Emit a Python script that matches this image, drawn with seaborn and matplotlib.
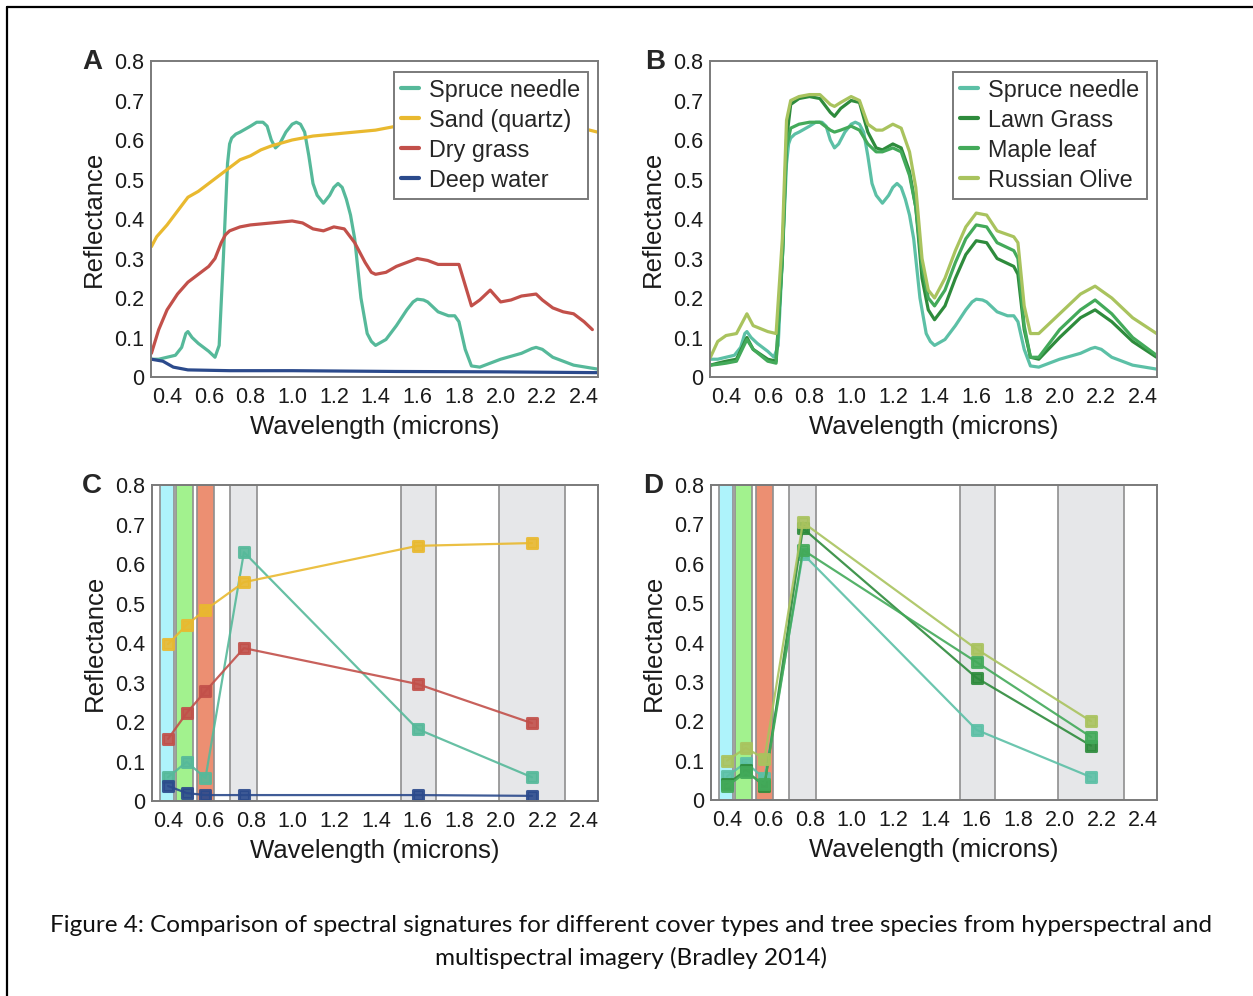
import numpy as np
import pandas as pd
import seaborn as sns
import matplotlib.pyplot as plt
from matplotlib.lines import Line2D
from matplotlib.markers import MarkerStyle

# ---- hyperspectral curves (panels A and B), wavelength in microns ----
spruce_wl = [0.325, 0.36, 0.4, 0.44, 0.47, 0.49, 0.5, 0.52, 0.55, 0.6, 0.63, 0.65, 0.67, 0.69, 0.7, 0.71, 0.73,
             0.75, 0.8, 0.83, 0.86, 0.88, 0.9, 0.92, 0.94, 0.97, 1.0, 1.02, 1.04, 1.06, 1.08, 1.1, 1.12, 1.15,
             1.18, 1.2, 1.22, 1.24, 1.26, 1.28, 1.3, 1.33, 1.36, 1.38, 1.4, 1.45, 1.5, 1.55, 1.58, 1.6, 1.63,
             1.65, 1.7, 1.75, 1.78, 1.8, 1.83, 1.86, 1.9, 2.0, 2.1, 2.15, 2.17, 2.2, 2.25, 2.35, 2.465]
spruce_r = [0.045, 0.045, 0.05, 0.055, 0.075, 0.11, 0.115, 0.1, 0.085, 0.065, 0.05, 0.08, 0.3, 0.54, 0.59, 0.605,
            0.615, 0.62, 0.635, 0.645, 0.645, 0.635, 0.6, 0.58, 0.59, 0.62, 0.64, 0.645, 0.64, 0.62, 0.56, 0.49,
            0.46, 0.44, 0.46, 0.48, 0.49, 0.48, 0.45, 0.41, 0.35, 0.2, 0.11, 0.09, 0.08, 0.095, 0.13, 0.17, 0.19,
            0.197, 0.195, 0.19, 0.165, 0.155, 0.155, 0.14, 0.07, 0.028, 0.025, 0.045, 0.06, 0.072, 0.075, 0.07,
            0.05, 0.03, 0.02]

sand_wl = [0.325, 0.35, 0.4, 0.45, 0.5, 0.55, 0.6, 0.65, 0.7, 0.75, 0.8, 0.85, 0.9, 1.0, 1.1, 1.2, 1.3, 1.4,
           1.5, 1.6, 1.8, 2.0, 2.2, 2.35, 2.465]
sand_r = [0.33, 0.355, 0.385, 0.42, 0.455, 0.47, 0.49, 0.51, 0.53, 0.55, 0.56, 0.575, 0.585, 0.6, 0.61, 0.615,
          0.62, 0.625, 0.635, 0.635, 0.64, 0.645, 0.64, 0.635, 0.62]

drygrass_wl = [0.325, 0.36, 0.4, 0.45, 0.5, 0.55, 0.6, 0.63, 0.66, 0.68, 0.7, 0.75, 0.8, 0.9, 1.0, 1.05, 1.1,
               1.15, 1.2, 1.25, 1.3, 1.35, 1.38, 1.4, 1.45, 1.5, 1.6, 1.65, 1.7, 1.8, 1.82, 1.86, 1.9, 1.95, 2.0,
               2.05, 2.1, 2.17, 2.2, 2.25, 2.3, 2.35, 2.4, 2.44]
drygrass_r = [0.06, 0.12, 0.17, 0.21, 0.24, 0.26, 0.28, 0.3, 0.34, 0.36, 0.37, 0.38, 0.385, 0.39, 0.395, 0.39,
              0.375, 0.37, 0.38, 0.375, 0.34, 0.29, 0.265, 0.26, 0.265, 0.28, 0.3, 0.295, 0.285, 0.285, 0.25,
              0.18, 0.195, 0.22, 0.19, 0.195, 0.205, 0.21, 0.195, 0.175, 0.165, 0.16, 0.14, 0.12]

water_wl = [0.325, 0.38, 0.43, 0.5, 0.7, 1.0, 1.5, 2.0, 2.465]
water_r = [0.045, 0.04, 0.025, 0.018, 0.016, 0.016, 0.014, 0.013, 0.011]

veg_wl = [0.325, 0.36, 0.4, 0.45, 0.5, 0.53, 0.6, 0.64, 0.67, 0.69, 0.71, 0.75, 0.8, 0.85, 0.9, 0.92, 0.95, 1.0,
          1.04, 1.08, 1.12, 1.15, 1.2, 1.24, 1.28, 1.31, 1.34, 1.37, 1.4, 1.45, 1.5, 1.55, 1.6, 1.65, 1.7, 1.78,
          1.8, 1.83, 1.86, 1.9, 2.0, 2.1, 2.17, 2.25, 2.35, 2.465]
lawn_r = [0.03, 0.035, 0.04, 0.045, 0.1, 0.07, 0.045, 0.04, 0.3, 0.6, 0.69, 0.705, 0.71, 0.705, 0.67, 0.66, 0.68,
          0.7, 0.695, 0.62, 0.58, 0.575, 0.59, 0.58, 0.52, 0.43, 0.25, 0.17, 0.145, 0.18, 0.25, 0.31, 0.345, 0.34,
          0.3, 0.28, 0.26, 0.12, 0.05, 0.045, 0.1, 0.15, 0.17, 0.14, 0.09, 0.05]
maple_r = [0.03, 0.032, 0.035, 0.04, 0.095, 0.07, 0.04, 0.035, 0.3, 0.58, 0.63, 0.64, 0.645, 0.645, 0.625, 0.62,
           0.625, 0.635, 0.625, 0.59, 0.57, 0.57, 0.58, 0.57, 0.51, 0.43, 0.28, 0.2, 0.18, 0.22, 0.29, 0.35, 0.385,
           0.38, 0.34, 0.32, 0.3, 0.13, 0.05, 0.05, 0.12, 0.17, 0.195, 0.16, 0.1, 0.055]
olive_r = [0.05, 0.09, 0.105, 0.11, 0.16, 0.13, 0.115, 0.11, 0.35, 0.65, 0.7, 0.71, 0.715, 0.715, 0.69, 0.685,
           0.695, 0.71, 0.7, 0.64, 0.625, 0.625, 0.64, 0.63, 0.57, 0.48, 0.3, 0.22, 0.2, 0.25, 0.32, 0.38, 0.415,
           0.41, 0.37, 0.355, 0.34, 0.18, 0.11, 0.11, 0.16, 0.21, 0.23, 0.2, 0.15, 0.11]

# ---- multispectral bands (panels C and D) ----
band_lo = [0.36, 0.44, 0.54, 0.70, 1.52, 1.99]
band_hi = [0.43, 0.52, 0.62, 0.83, 1.69, 2.31]
band_colors = ['#aef3fb', '#a2f28e', '#ec8f72', '#e6e7e9', '#e6e7e9', '#e6e7e9']
ms_wl = [0.40, 0.49, 0.58, 0.765, 1.60, 2.15]
c_spruce = [0.06, 0.099, 0.058, 0.63, 0.182, 0.06]
c_sand = [0.397, 0.446, 0.484, 0.554, 0.646, 0.653]
c_drygrass = [0.157, 0.223, 0.278, 0.387, 0.296, 0.197]
c_water = [0.038, 0.02, 0.015, 0.015, 0.015, 0.013]
d_spruce = [0.06, 0.095, 0.055, 0.625, 0.178, 0.058]
d_lawn = [0.04, 0.075, 0.035, 0.69, 0.31, 0.138]
d_maple = [0.035, 0.07, 0.04, 0.635, 0.35, 0.16]
d_olive = [0.10, 0.132, 0.105, 0.705, 0.383, 0.2]

cover_names = ['Spruce needle', 'Sand (quartz)', 'Dry grass', 'Deep water']
cover_colors = ['#56b99a', '#e9b92f', '#c2504a', '#2b4a8c']
tree_names = ['Spruce needle', 'Lawn Grass', 'Maple leaf', 'Russian Olive']
tree_colors = ['#5cc0a6', '#2e8b3c', '#43aa5a', '#a9c35e']


def long_df(names, wls, vals):
    rows = []
    for name, wl, v in zip(names, wls, vals):
        for x, y in zip(wl, v):
            rows.append({'material': name, 'wl': x, 'refl': y})
    return pd.DataFrame(rows)


df_a = long_df(cover_names, [spruce_wl, sand_wl, drygrass_wl, water_wl],
               [spruce_r, sand_r, drygrass_r, water_r])
df_b = long_df(tree_names, [spruce_wl, veg_wl, veg_wl, veg_wl], [spruce_r, lawn_r, maple_r, olive_r])
df_c = long_df(cover_names, [ms_wl] * 4, [c_spruce, c_sand, c_drygrass, c_water])
df_d = long_df(tree_names, [ms_wl] * 4, [d_spruce, d_lawn, d_maple, d_olive])

sns.set_theme(style="white")
plt.rcParams['font.family'] = ['Liberation Sans', 'DejaVu Sans']

W, H = 1253, 996
fig = plt.figure(figsize=(W / 100, H / 100), dpi=100)


def add_ax(left, top, right, bottom):
    return fig.add_axes([left / W, 1 - bottom / H, (right - left) / W, (bottom - top) / H])


ax_a = add_ax(151, 61, 598, 377)
ax_b = add_ax(710, 61, 1157, 377)
ax_c = add_ax(152, 485, 598, 801)
ax_d = add_ax(711, 485, 1157, 800)

sns.lineplot(data=df_a, x='wl', y='refl', hue='material', hue_order=cover_names, palette=cover_colors,
             sort=False, estimator=None, lw=2.3, ax=ax_a)
sns.lineplot(data=df_b, x='wl', y='refl', hue='material', hue_order=tree_names, palette=tree_colors,
             sort=False, estimator=None, lw=2.3, ax=ax_b)

for ax in (ax_c, ax_d):
    for lo, hi, col in zip(band_lo, band_hi, band_colors):
        ax.axvspan(lo, hi, facecolor=col, edgecolor='#8f8f8f', lw=1.2, zorder=0)

sns.lineplot(data=df_c, x='wl', y='refl', hue='material', hue_order=cover_names, palette=cover_colors,
             sort=False, estimator=None, lw=1.6, marker='s', markersize=7, alpha=0.9,
             legend=False, ax=ax_c)
sns.lineplot(data=df_d, x='wl', y='refl', hue='material', hue_order=tree_names, palette=tree_colors,
             sort=False, estimator=None, lw=1.6, marker='s', markersize=7, alpha=0.9,
             legend=False, ax=ax_d)

# rounded square markers
for ax in (ax_c, ax_d):
    for ln in ax.get_lines():
        ln.set_marker(MarkerStyle('s', joinstyle='round'))
        ln.set_markeredgecolor(ln.get_color())
        ln.set_markerfacecolor(ln.get_color())
        ln.set_markeredgewidth(2.2)

xticks = [0.4, 0.6, 0.8, 1.0, 1.2, 1.4, 1.6, 1.8, 2.0, 2.2, 2.4]
yticks = [0, 0.1, 0.2, 0.3, 0.4, 0.5, 0.6, 0.7, 0.8]
for ax in (ax_a, ax_b, ax_c, ax_d):
    ax.set_xlim(0.323, 2.467)
    ax.set_ylim(0, 0.8)
    ax.set_xticks(xticks)
    ax.set_xticklabels([f'{t:.1f}' for t in xticks])
    ax.set_yticks(yticks)
    ax.set_yticklabels(['0'] + [f'{t:.1f}' for t in yticks[1:]])
    ax.tick_params(axis='both', length=0, labelsize=15.5, colors='#1a1a1a')
    ax.tick_params(axis='x', pad=7)
    ax.tick_params(axis='y', pad=5)
    ax.set_xlabel('Wavelength (microns)', fontsize=18.5, color='#1a1a1a', labelpad=5)
    ax.set_ylabel('Reflectance', fontsize=18.5, color='#1a1a1a', labelpad=6)
    for sp in ax.spines.values():
        sp.set_color('#7a7a7a')
        sp.set_linewidth(1.4)
        sp.set_zorder(5)

for ax in (ax_a, ax_b):
    handles, labels = ax.get_legend_handles_labels()
    leg = ax.legend(handles, labels, loc='upper right', fontsize=16.8, frameon=True, fancybox=False,
                    framealpha=1, edgecolor='#7a7a7a', handlelength=0.75, handletextpad=0.45,
                    labelspacing=0.3, borderpad=0.3, borderaxespad=0.45)
    leg.get_frame().set_linewidth(1.4)
    for ln in leg.get_lines():
        ln.set_linewidth(3)

for letter, x, y in [('A', 92, 62), ('B', 655, 62), ('C', 92, 486), ('D', 653, 486)]:
    fig.text(x / W, 1 - y / H, letter, fontsize=20, fontweight='bold', ha='center', va='center')

fig.text(631 / W, 1 - 942 / H,
         'Figure 4: Comparison of spectral signatures for different cover types and tree species from hyperspectral and\n'
         'multispectral imagery (Bradley 2014)',
         fontsize=17.5, family=['Lato', 'DejaVu Sans'], ha='center', va='center', linespacing=1.55, color='#111111')

# page border (top and left edges only)
fig.add_artist(Line2D([7 / W, 1], [1 - 7 / H, 1 - 7 / H], transform=fig.transFigure, color='black', lw=1.6))
fig.add_artist(Line2D([7 / W, 7 / W], [0, 1 - 7 / H], transform=fig.transFigure, color='black', lw=1.6))

plt.savefig('out.png', dpi=100)
